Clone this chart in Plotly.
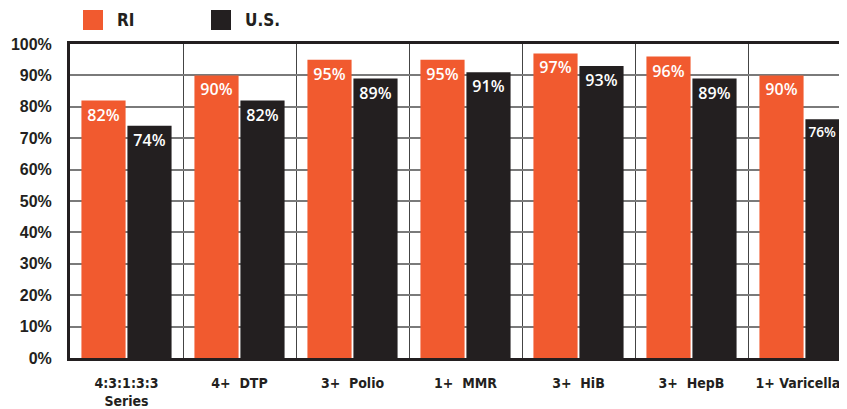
import plotly.graph_objects as go

categories = ["4:3:1:3:3<br>Series", "4+  DTP", "3+  Polio", "1+  MMR", "3+  HiB", "3+  HepB", "1+ Varicella"]
ri_values = [82, 90, 95, 95, 97, 96, 90]
us_values = [74, 82, 89, 91, 93, 89, 76]
y_ticks = [0, 10, 20, 30, 40, 50, 60, 70, 80, 90, 100]
y_tick_labels = [f"{v}%" for v in y_ticks]
# last labels padded so they stay inside the visible page edge
x_tick_labels = categories[:-1] + [categories[-1] + "&nbsp;&nbsp;&nbsp;"]
ri_text = [f"{v}%" for v in ri_values]
us_text = [f"{v}%" for v in us_values[:-1]] + [f"{us_values[-1]}%&nbsp;&nbsp;&nbsp;"]

ORANGE = "#F15A2F"
BLACK = "#231F20"
COND = "DejaVu Sans Condensed, Liberation Sans"

fig = go.Figure()
for name, vals, txt, col in [("RI", ri_values, ri_text, ORANGE), ("U.S.", us_values, us_text, BLACK)]:
    fig.add_trace(go.Bar(
        x=categories, y=vals, name=name, marker=dict(color=col, line=dict(width=0)),
        text=txt, textposition="inside", insidetextanchor="end",
        textangle=0, cliponaxis=False,
        textfont=dict(family="Open Sans", size=16, color="white", weight=600),
        showlegend=False,
    ))

PLOT_W = 769
# page body has an 8px margin, so the figure is sized to fit the visible window
fig.update_layout(
    width=831, height=401,
    margin=dict(l=62, r=0, t=36, b=51),
    paper_bgcolor="white", plot_bgcolor="white",
    barmode="group", bargap=0.186, bargroupgap=0.04,
    uniformtext=dict(mode=False),
    xaxis=dict(
        type="category", range=[-0.5, -0.5 + PLOT_W / 113], tickson="boundaries",
        tickvals=categories, ticktext=x_tick_labels,
        showgrid=True, gridcolor="#444444", gridwidth=1,
        showline=True, linecolor=BLACK, linewidth=3, mirror=True,
        ticks="", ticklabelstandoff=10, automargin=False,
        tickfont=dict(family=COND, size=14, color=BLACK, weight="bold"),
    ),
    yaxis=dict(
        range=[0, 100], tickvals=y_ticks, ticktext=y_tick_labels,
        showgrid=True, gridcolor="#7a7a7a", gridwidth=1.5,
        showline=True, linecolor=BLACK, linewidth=3, mirror=False,
        ticks="", ticklabelstandoff=12, zeroline=False, automargin=False,
        tickfont=dict(family="Liberation Sans", size=16, color=BLACK, weight="bold"),
    ),
)

# legend drawn as paper-space swatches
legend_items = [("RI", ORANGE, 83), ("U.S.", BLACK, 211)]
for name, col, px in legend_items:
    fig.add_shape(type="rect", xref="paper", yref="paper",
                  x0=(px - 70) / PLOT_W, x1=(px + 20 - 70) / PLOT_W,
                  y0=(358 - 30) / 314, y1=(358 - 10) / 314,
                  fillcolor=col, line=dict(width=0))
    fig.add_annotation(xref="paper", yref="paper", x=(px + 32 - 70) / PLOT_W, y=(358 - 20) / 314,
                       text=name, showarrow=False, xanchor="left", yanchor="middle",
                       font=dict(family=COND, size=17, color=BLACK, weight="bold"))

fig.write_html("out.html")
